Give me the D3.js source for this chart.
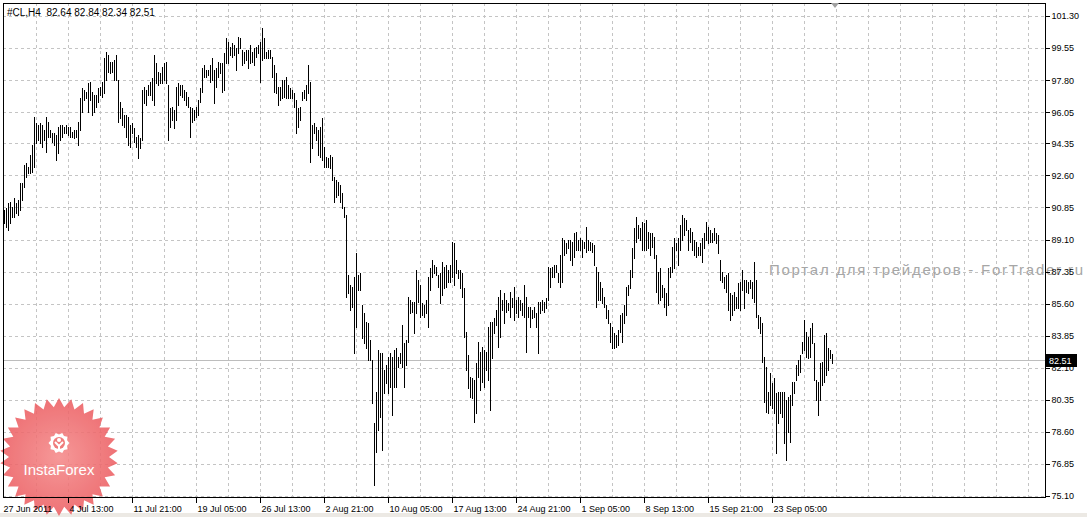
<!DOCTYPE html>
<html>
<head>
<meta charset="utf-8">
<script src="https://cdn.jsdelivr.net/npm/d3@7"></script>
<style>
  body { margin: 0; background: #fff; }
  svg { display: block; font-family: "Liberation Sans", Arial, sans-serif; }
</style>
</head>
<body>
<div id="chart"></div>
<script>
// #CL,H4 bars (high / low of every 4h bar), in four chunks
var highA = [90.71,90.80,91.08,91.17,90.89,91.35,91.08,91.26,92.17,92.17,
  93.17,93.26,93.08,93.71,94.26,95.81,95.44,95.35,95.44,95.35,
  95.08,95.77,95.53,95.08,94.90,94.90,94.81,95.26,95.35,95.35,
  95.26,95.35,95.26,95.26,94.99,95.08,95.08,95.53,96.81,97.35,
  97.26,97.17,97.63,97.72,97.17,96.99,96.99,97.35,97.44,97.72,
  98.99,99.35,99.17,98.81,98.81,98.90,99.17,97.81,96.62,96.26,
  95.90,95.90,95.81,95.35,95.44,95.17,94.71,94.81,94.62,97.26,
  97.44,97.26,97.53,97.72,97.90,99.17,98.72,98.26,98.17,98.53,
  98.72,98.81,97.53,96.26,96.35,96.17,97.44,97.63,97.53,97.53,
  97.26,97.17,96.90,96.35,96.26,96.17,96.35,96.72,97.35,98.44,
  98.63,98.35,98.35];
var lowA = [90.02,89.80,89.62,89.98,90.35,90.35,90.53,90.44,90.71,91.26,
  91.99,92.53,92.71,92.71,92.80,93.08,94.35,94.53,94.35,94.17,
  94.53,93.90,94.71,94.71,94.44,94.26,93.44,93.80,94.53,94.71,
  94.90,94.90,94.81,94.71,94.71,94.62,94.71,94.26,95.08,96.08,
  96.72,96.81,96.08,96.72,95.90,96.08,96.35,96.62,96.99,96.90,
  97.08,97.81,98.26,98.17,98.26,97.81,97.81,95.53,95.72,95.35,
  95.26,94.71,94.26,94.17,94.90,94.44,94.17,93.53,94.08,94.53,
  96.53,96.44,96.99,96.99,96.72,96.44,97.63,97.53,97.63,97.63,
  97.81,97.63,94.53,95.26,95.62,95.17,95.62,96.44,96.99,96.90,
  96.72,96.44,96.35,94.71,95.53,95.62,95.81,95.90,96.62,97.17,
  97.99,97.99,98.08];

var highB = [98.63,98.99,98.35,98.44,98.81,98.72,98.72,99.26,100.08,99.90,
  99.63,99.81,99.72,99.54,100.17,100.08,99.45,99.35,99.45,99.45,
  99.72,99.35,99.54,99.63,99.72,99.90,100.63,100.08,99.35,99.45,
  99.45,99.08,98.63,98.17,97.44,97.44,97.81,97.81,97.99,97.53,
  97.35,97.26,97.08,96.72,96.26,96.35,97.17,97.26,97.53,98.63,
  97.72,95.35,95.44,95.26,95.08,95.26,95.72,94.17,93.62,93.53,
  93.71,93.62,92.53,92.35,92.26,92.08,91.62,90.89,90.44,87.16,
  86.62,86.53,87.07,88.35,87.16,87.25,85.53,85.07,84.62,84.53,
  83.62,82.52,79.07,80.80,83.07,82.89,82.89,81.98,82.25,82.71,
  82.89,82.71,83.07,83.16,82.71,82.89,84.43,83.43,83.62,85.98,
  85.80,85.71,85.71,87.44,86.89];
var lowB = [97.72,97.81,96.53,97.44,97.99,98.17,97.17,97.26,98.72,98.72,
  99.17,99.08,99.17,98.35,99.26,99.54,98.63,98.72,98.90,98.44,
  98.72,98.81,98.63,99.08,99.26,97.72,98.90,98.99,98.99,98.99,
  98.99,97.99,97.17,97.08,96.44,96.72,96.81,96.90,96.81,96.81,
  96.81,96.81,96.35,94.90,95.26,95.62,96.72,96.81,96.72,97.08,
  93.35,94.08,94.90,94.53,93.71,93.62,93.44,93.08,93.08,93.08,
  92.99,92.35,91.17,91.44,91.53,91.17,90.80,90.35,85.98,86.16,
  85.25,85.43,82.89,84.34,86.34,86.34,83.71,83.43,83.16,82.52,
  82.52,80.16,75.70,77.52,78.70,79.43,77.61,80.71,81.25,80.71,
  81.07,79.52,81.07,81.07,82.16,82.34,82.16,81.07,82.25,83.52,
  85.07,85.16,83.98,85.07,85.71];

var highC = [86.62,85.62,85.53,85.80,87.07,87.53,87.98,87.71,87.62,87.16,
  87.25,87.89,87.62,87.71,87.44,87.71,88.98,88.89,87.98,87.44,
  87.44,87.25,86.44,84.07,82.80,81.61,81.52,81.43,82.34,83.52,
  82.98,83.25,83.07,82.98,84.34,84.62,84.62,84.80,85.25,85.98,
  86.35,85.80,86.16,85.80,85.62,86.25,85.89,86.53,85.80,85.98,
  85.80,85.62,86.62,85.98,85.44,85.44,85.25,85.44,85.07,85.71,
  85.71,85.80,85.71,85.89,87.62,87.53,87.62,87.71,87.71,87.25,
  88.26,89.17,89.07,88.89,89.07,89.07,88.98,89.44,89.53,89.07,
  89.17,89.07,88.98,89.80,89.07,88.98,88.89,88.80,87.62,87.35,
  86.80,86.44,85.98,85.53,85.25,84.53,84.34,83.98,83.89,84.16,
  84.98,85.07,85.53,86.53,86.62];
var lowC = [84.89,84.98,84.89,85.07,84.34,86.35,87.07,87.25,87.16,86.53,
  85.62,86.07,86.44,86.53,86.80,86.80,87.07,86.62,87.25,86.98,
  86.44,85.98,83.80,81.98,80.98,80.52,80.43,79.16,79.61,81.61,
  80.89,81.34,81.07,81.98,81.43,79.80,82.62,83.98,84.43,83.25,
  83.80,85.25,84.53,85.16,85.25,84.89,85.44,84.71,85.07,84.89,
  85.25,84.98,84.89,82.98,84.89,84.34,84.80,84.89,84.34,82.89,
  85.07,85.25,85.16,85.34,85.80,86.53,87.07,87.07,87.35,86.80,
  86.53,86.80,88.26,88.35,88.62,87.98,87.71,88.16,88.53,88.53,
  88.53,88.16,88.62,88.44,88.53,88.53,88.44,87.71,85.44,85.80,
  85.80,85.62,85.44,84.80,84.53,83.52,83.16,83.16,83.25,83.34,
  84.07,83.52,84.53,84.98,86.07];

var highD = [87.44,88.62,89.71,90.35,89.89,89.71,90.07,89.98,90.17,89.53,
  89.44,89.44,89.26,88.26,87.35,87.53,86.62,86.44,86.16,87.53,
  87.62,88.71,89.17,88.89,89.17,89.89,90.44,90.26,90.17,89.62,
  89.71,89.53,89.07,88.98,88.71,88.89,89.17,89.44,90.07,89.80,
  89.62,89.44,89.71,89.44,89.35,87.98,87.35,87.07,87.16,87.25,
  86.16,86.07,86.25,85.98,86.71,86.80,87.44,86.89,86.89,86.80,
  86.89,86.80,87.89,86.89,84.98,84.89,84.53,82.71,82.16,80.80,
  81.80,81.25,81.52,80.70,80.80,80.80,80.80,80.80,80.34,80.52,
  80.61,81.34,81.34,82.25,82.52,82.80,83.52,84.71,84.07,83.80,
  84.25,84.53,83.43,81.43,81.34,82.34,82.43,83.89,83.98,83.16,
  83.07,82.84];
var lowD = [86.44,87.07,88.07,88.98,89.17,89.07,88.53,88.53,88.53,88.62,
  88.26,88.71,88.07,86.25,85.62,85.80,85.98,85.44,84.98,85.53,
  87.07,87.35,87.53,88.53,87.71,88.53,89.07,89.35,89.62,88.53,
  88.98,88.53,88.26,88.16,88.26,88.26,87.89,88.62,89.07,88.89,
  88.98,88.98,89.07,88.89,88.35,86.89,86.80,86.44,86.25,85.25,
  84.71,84.98,85.25,85.34,85.34,85.25,86.35,85.34,86.25,86.16,
  86.44,85.89,85.71,84.89,84.25,83.98,82.43,80.25,79.70,79.61,
  80.07,79.89,79.61,77.43,79.07,79.61,79.43,77.98,77.07,78.61,
  78.07,80.07,80.70,81.43,81.70,81.89,82.89,83.07,82.71,82.62,
  82.71,83.43,81.43,80.34,79.52,80.34,81.16,81.34,81.70,81.98,
  82.62,82.34];

// price scale labels (right side) and time labels (bottom, one every 32 bars)
var priceTicks = [101.30, 99.55, 97.80, 96.05, 94.35, 92.60, 90.85, 89.10,
  87.35, 85.60, 83.85, 82.10, 80.35, 78.60, 76.85, 75.10];
var timeLabels = ["27 Jun 2011", "4 Jul 13:00", "11 Jul 21:00", "19 Jul 05:00",
  "26 Jul 13:00", "2 Aug 21:00", "10 Aug 05:00", "17 Aug 13:00", "24 Aug 21:00",
  "1 Sep 05:00", "8 Sep 13:00", "15 Sep 21:00", "23 Sep 05:00"];
var lastBar = { open: 82.64, high: 82.84, low: 82.34, close: 82.51 };
var symbolName = "#CL,H4";

var svgWidth = 1087;
var svgHeight = 517;
var frame = { left: 3, top: 3, right: 1045, bottom: 497 };

var highs = highA.concat(highB, highC, highD);
var lows = lowA.concat(lowB, lowC, lowD);
var bars = highs.map(function(h, i) { return { i: i, high: h, low: lows[i] }; });

var svg = d3.select("#chart").append("svg")
  .attr("width", svgWidth)
  .attr("height", svgHeight);

svg.append("rect").attr("width", svgWidth).attr("height", svgHeight).attr("fill", "#fff");
svg.append("rect").attr("x", 0).attr("y", 513).attr("width", svgWidth).attr("height", 4).attr("fill", "#ece9e4");

// 2 px per bar, first bar on x = 4
var xScale = d3.scaleLinear().domain([0, 521]).range([4, 1046]);
var yScale = d3.scaleLinear().domain([75.10, 101.30]).range([496, 16]);

var crisp = function(v) { return Math.round(v) + 0.5; };

// grid
var grid = svg.append("g").attr("shape-rendering", "crispEdges")
  .attr("stroke", "#c4c4c4").attr("stroke-dasharray", "3,3");
grid.selectAll("line.h").data(priceTicks).enter().append("line")
  .attr("class", "h")
  .attr("x1", frame.left).attr("x2", frame.right)
  .attr("y1", function(d) { return crisp(yScale(d)); })
  .attr("y2", function(d) { return crisp(yScale(d)); });
grid.selectAll("line.v").data(d3.range(16, 520, 16)).enter().append("line")
  .attr("class", "v")
  .attr("y1", frame.top).attr("y2", frame.bottom)
  .attr("x1", function(d) { return crisp(xScale(d)); })
  .attr("x2", function(d) { return crisp(xScale(d)); });

// InstaForex badge
var defs = svg.append("defs");
var grad = defs.append("radialGradient").attr("id", "badge");
grad.append("stop").attr("offset", "0%").attr("stop-color", "#f58a8a");
grad.append("stop").attr("offset", "100%").attr("stop-color", "#ec5f63");

var badge = svg.append("g").attr("transform", "translate(59,457)").attr("opacity", 0.88);
var starPts = d3.range(60).map(function(j) {
  var a = j * Math.PI / 30 - Math.PI / 2;
  var r = j % 2 === 0 ? 59 : 50;
  return [r * Math.cos(a), r * Math.sin(a)];
});
badge.append("path").attr("d", d3.line()(starPts) + "Z").attr("fill", "url(#badge)");
var gearPts = d3.range(20).map(function(j) {
  var a = j * Math.PI / 10;
  var r = j % 2 === 0 ? 10.5 : 8.5;
  return [r * Math.cos(a), r * Math.sin(a) - 14];
});
badge.append("path").attr("d", d3.line().curve(d3.curveLinearClosed)(gearPts)).attr("fill", "#fff");
badge.append("circle").attr("cx", 0).attr("cy", -14).attr("r", 6).attr("fill", "#ef6b6b");
badge.append("circle").attr("cx", 0).attr("cy", -17).attr("r", 2).attr("fill", "#fff");
badge.append("path").attr("d", "M-4,-15 L0,-11 L4,-15 M0,-11 L0,-6")
  .attr("stroke", "#fff").attr("stroke-width", 2).attr("fill", "none");
badge.append("text").attr("x", 0).attr("y", 18)
  .attr("text-anchor", "middle").attr("fill", "#fff")
  .attr("font-size", "15px").text("InstaForex");

// watermark
svg.append("text").attr("x", 769).attr("y", 275)
  .attr("font-size", "15px").attr("fill", "#a6a6a6")
  .attr("textLength", 314)
  .text("Портал для трейдеров - ForTrader.ru");

// current price line
svg.append("line").attr("shape-rendering", "crispEdges")
  .attr("x1", frame.left).attr("x2", frame.right)
  .attr("y1", crisp(yScale(lastBar.close))).attr("y2", crisp(yScale(lastBar.close)))
  .attr("stroke", "#bdbdbd");

// bars
svg.append("g").attr("shape-rendering", "crispEdges")
  .selectAll("line").data(bars).enter().append("line")
  .attr("x1", function(d) { return crisp(xScale(d.i)); })
  .attr("x2", function(d) { return crisp(xScale(d.i)); })
  .attr("y1", function(d) { return Math.round(yScale(d.high)); })
  .attr("y2", function(d) { return Math.round(yScale(d.low)) + 1; })
  .attr("stroke", "#000").attr("stroke-width", 1);

// frame
svg.append("rect").attr("shape-rendering", "crispEdges")
  .attr("x", frame.left + 0.5).attr("y", frame.top + 0.5)
  .attr("width", frame.right - frame.left).attr("height", frame.bottom - frame.top)
  .attr("fill", "none").attr("stroke", "#000");

// right price axis
var yAxis = d3.axisRight(yScale).tickValues(priceTicks).tickSize(4).tickPadding(2)
  .tickFormat(d3.format(".2f"));
var yG = svg.append("g").attr("transform", "translate(" + (frame.right + 0.5) + ",0)").call(yAxis);
yG.select(".domain").remove();
yG.selectAll("text").attr("font-size", "9px").attr("font-family", "Liberation Sans, Arial, sans-serif").attr("fill", "#000");
yG.selectAll("line").attr("stroke", "#000").attr("shape-rendering", "crispEdges");

// bottom time axis
var xAxis = d3.axisBottom(xScale)
  .tickValues(timeLabels.map(function(d, k) { return k * 32; }))
  .tickSize(5).tickPadding(3)
  .tickFormat(function(d, k) { return timeLabels[k]; });
var xG = svg.append("g").attr("transform", "translate(0," + (frame.bottom + 0.5) + ")").call(xAxis);
xG.select(".domain").remove();
xG.selectAll("text").attr("text-anchor", "start").attr("x", function(d, k) { return k === 0 ? -1 : 1; })
  .attr("font-size", "9px").attr("font-family", "Liberation Sans, Arial, sans-serif").attr("fill", "#000");
xG.selectAll("line").attr("stroke", "#000").attr("shape-rendering", "crispEdges")
  .attr("display", function(d, k) { return k === 0 ? "none" : null; });

// current price tag
var tagY = yScale(lastBar.close);
svg.append("rect").attr("x", 1046).attr("y", Math.round(tagY) - 6)
  .attr("width", 31).attr("height", 13).attr("fill", "#000");
svg.append("text").attr("x", 1049).attr("y", Math.round(tagY) + 4)
  .attr("font-size", "9px").attr("fill", "#fff").text(lastBar.close.toFixed(2));

// header
svg.append("text").attr("x", 7).attr("y", 16)
  .attr("font-size", "10px").attr("fill", "#000").attr("xml:space", "preserve")
  .text(symbolName + "  " + [lastBar.open, lastBar.high, lastBar.low, lastBar.close]
    .map(function(v) { return v.toFixed(2); }).join(" "));

// shift marker at the top
svg.append("path").attr("d", "M831,3 L839,3 L835,8 Z").attr("fill", "#a0a0a0");
</script>
</body>
</html>
